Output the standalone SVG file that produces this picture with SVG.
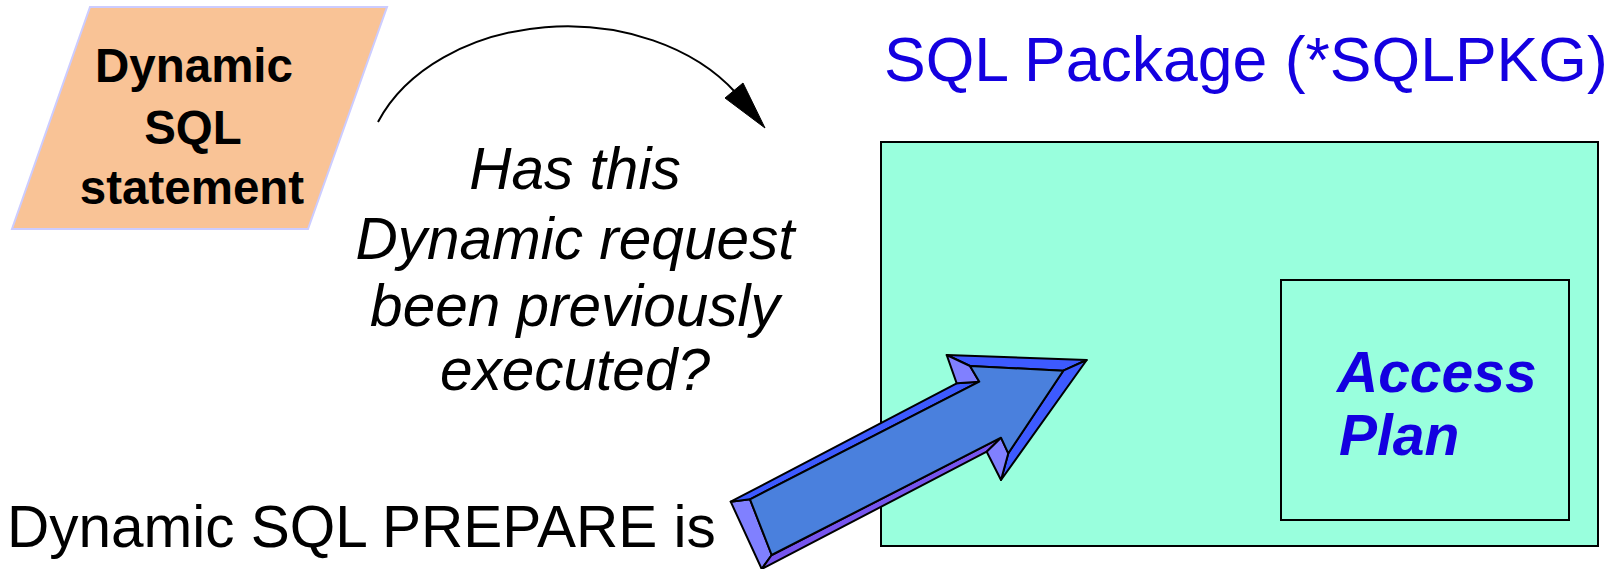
<svg xmlns="http://www.w3.org/2000/svg" width="1623" height="569" viewBox="0 0 1623 569">
  <style>
    .sans { font-family: "Liberation Sans", Arial, sans-serif; }
    .stmt { font-size: 47.5px; font-weight: bold; fill: #000; }
    .question { font-size: 58.5px; font-style: italic; fill: #000; }
    .title { font-size: 62.5px; fill: #1400e0; }
    .plan { font-size: 57px; font-weight: bold; font-style: italic; fill: #1400e0; }
    .caption { font-size: 58.5px; fill: #000; }
    .box { fill: #99ffdd; stroke: #000; stroke-width: 2; }
    .bevel { stroke: #000; stroke-width: 2; stroke-linejoin: round; }
    .face { fill: #4a80dd; }
    .lit { fill: #3d5aff; }
    .side { fill: #8080ff; }
    .under { fill: #7755ee; }
  </style>

  <!-- Dynamic SQL statement (parallelogram input) -->
  <g id="node-statement">
    <polygon points="90,7 387,7 308,229 12,229" fill="#f9c396" stroke="#ccccff" stroke-width="2"/>
    <text class="sans stmt" text-anchor="middle" x="194" y="82">Dynamic</text>
    <text class="sans stmt" text-anchor="middle" x="193" y="144">SQL</text>
    <text class="sans stmt" text-anchor="middle" x="192" y="204">statement</text>
  </g>

  <!-- Question label -->
  <g id="node-question">
    <text class="sans question" text-anchor="middle" x="575" y="189">Has this</text>
    <text class="sans question" text-anchor="middle" x="575" y="259">Dynamic request</text>
    <text class="sans question" text-anchor="middle" x="575" y="326">been previously</text>
    <text class="sans question" text-anchor="middle" x="575" y="390">executed?</text>
  </g>

  <!-- SQL package container with access plan -->
  <g id="node-package">
    <text class="sans title" x="884" y="81">SQL Package (*SQLPKG)</text>
    <rect class="box" x="881" y="142" width="717" height="404"/>
  </g>
  <g id="node-access-plan">
    <rect class="box" x="1281" y="280" width="288" height="240"/>
    <text class="sans plan" x="1337" y="392">Access</text>
    <text class="sans plan" x="1339" y="455">Plan</text>
  </g>

  <!-- Prepare caption -->
  <g id="node-prepare">
    <text class="sans caption" x="7" y="547">Dynamic SQL PREPARE is</text>
  </g>

  <g id="connectors">
    <!-- curved lookup arrow -->
    <path d="M378,122 A203,150 0 0 1 736,93" fill="none" stroke="#000" stroke-width="2"/>
    <polygon points="765,128 725,98 743,83" fill="#000" stroke="#000" stroke-width="1"/>

    <!-- bevelled block arrow into the package -->
    <g id="block-arrow" class="bevel">
      <!-- tail end -->
      <polygon class="side" points="730.7,501.7 750,499.3 771.7,555 761.7,569"/>
      <!-- shaft top bevel -->
      <polygon class="lit" points="730.7,501.7 956.7,383.3 979.3,381.7 750,499.3"/>
      <!-- shaft bottom bevel -->
      <polygon class="under" points="761.7,569 986.7,451.7 1001,437.7 771.7,555"/>
      <!-- head top bevel -->
      <polygon class="lit" points="946.7,355 1086.7,360 1063.3,370.7 970,366"/>
      <!-- head right bevel -->
      <polygon class="lit" points="1086.7,360 1001,480 1008.3,453.3 1063.3,370.7"/>
      <!-- barb backs -->
      <polygon class="side" points="946.7,355 970,366 979.3,381.7 956.7,383.3"/>
      <polygon class="side" points="986.7,451.7 1001,437.7 1008.3,453.3 1001,480"/>
      <!-- front face -->
      <polygon class="face" points="750,499.3 979.3,381.7 970,366 1063.3,370.7 1008.3,453.3 1001,437.7 771.7,555"/>
    </g>
  </g>
</svg>
